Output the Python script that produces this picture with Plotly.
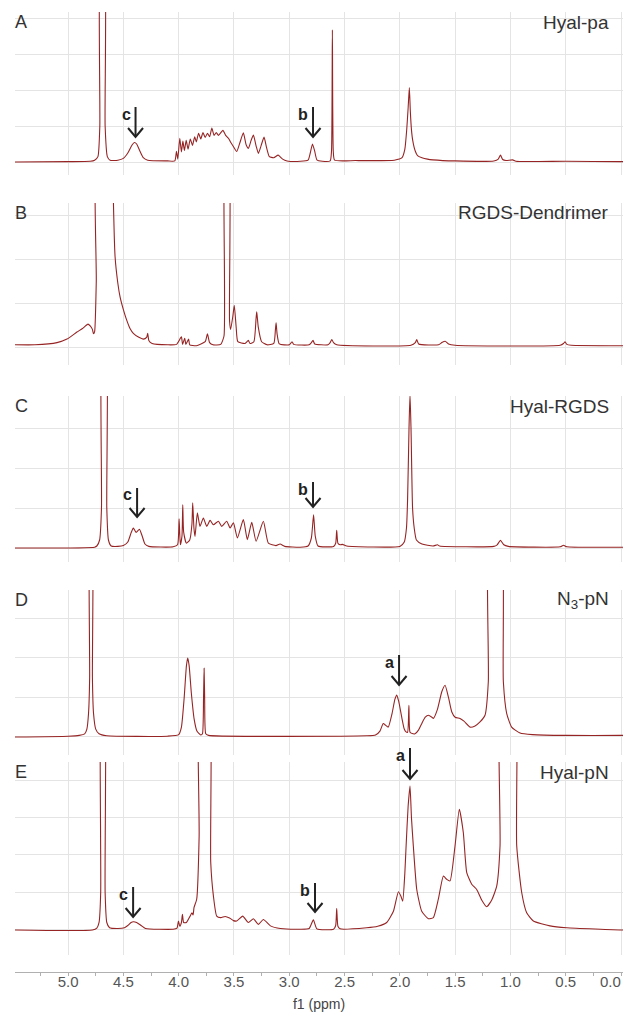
import plotly.graph_objects as go

# ---------------- data (ppm, relative intensity) ----------------
A_ppm = [5.48, 5.00, 4.80, 4.76, 4.73, 4.713, 4.703, 4.675, 4.665, 4.645, 4.62, 4.55, 4.50, 4.46, 4.42, 4.40, 4.38, 4.35, 4.32, 4.28, 4.10,
         4.035, 4.02, 4.008, 3.99, 3.975, 3.962, 3.948, 3.932, 3.915, 3.895, 3.875, 3.855, 3.84, 3.82, 3.80, 3.78, 3.76, 3.74, 3.72,
         3.70, 3.68, 3.66, 3.64, 3.60, 3.575, 3.55, 3.53, 3.505, 3.475, 3.445, 3.415, 3.39, 3.369, 3.345, 3.324, 3.30, 3.279, 3.255,
         3.228, 3.205, 3.18, 3.14, 3.10, 3.06, 3.02, 2.90, 2.83, 2.81, 2.79, 2.77, 2.75, 2.70, 2.63, 2.618, 2.61, 2.602, 2.59, 2.40,
         2.05, 1.98, 1.955, 1.938, 1.925, 1.914, 1.905, 1.895, 1.884, 1.86, 1.84, 1.80, 1.75, 1.70, 1.50, 1.15, 1.11, 1.09, 1.07,
         1.04, 0.98, 0.95, 0.50, 0.0, -0.02]
A_int = [0.0, 0.01, 0.02, 0.05, 0.15, 1.0, 6.0, 6.0, 1.0, 0.15, 0.05, 0.05, 0.10, 0.25, 0.48, 0.54, 0.50, 0.30, 0.12, 0.05, 0.03,
         0.03, 0.30, 0.08, 0.66, 0.28, 0.58, 0.32, 0.60, 0.36, 0.64, 0.46, 0.70, 0.56, 0.80, 0.64, 0.82, 0.68, 0.80, 0.70,
         0.94, 0.74, 0.82, 0.74, 0.88, 0.74, 0.66, 0.55, 0.43, 0.29, 0.55, 0.81, 0.48, 0.38, 0.60, 0.75, 0.45, 0.24, 0.45,
         0.69, 0.40, 0.15, 0.12, 0.19, 0.08, 0.03, 0.02, 0.05, 0.25, 0.50, 0.30, 0.06, 0.02, 0.03, 0.30, 3.67, 0.30, 0.05, 0.04,
         0.05, 0.12, 0.35, 0.89, 1.50, 2.07, 1.40, 0.90, 0.61, 0.30, 0.18, 0.12, 0.08, 0.06, 0.03, 0.03, 0.08, 0.19, 0.07,
         0.04, 0.06, 0.02, 0.02, 0.01, 0.01]

B_ppm = [5.48, 5.30, 5.10, 5.01, 4.92, 4.87, 4.82, 4.80, 4.78, 4.77, 4.76, 4.745, 4.73, 4.60, 4.59, 4.575, 4.55, 4.53, 4.50, 4.47,
         4.44, 4.41, 4.36, 4.32, 4.29, 4.28, 4.27, 4.24, 4.10, 4.02, 3.975, 3.965, 3.945, 3.935, 3.91, 3.90, 3.84, 3.76, 3.74,
         3.72, 3.69, 3.62, 3.59, 3.578, 3.55, 3.54, 3.53, 3.51, 3.497, 3.48, 3.465, 3.40, 3.37, 3.355, 3.32, 3.30, 3.294, 3.28,
         3.25, 3.20, 3.14, 3.125, 3.119, 3.11, 3.09, 3.00, 2.975, 2.96, 2.82, 2.80, 2.785, 2.77, 2.65, 2.63, 2.615, 2.60, 2.57,
         1.90, 1.86, 1.847, 1.83, 1.65, 1.62, 1.59, 1.56, 1.50, 0.55, 0.52, 0.506, 0.49, 0.45, 0.0, -0.02]
B_int = [0.05, 0.05, 0.10, 0.18, 0.34, 0.42, 0.52, 0.48, 0.40, 0.30, 0.35, 1.50, 5.0, 5.0, 3.30, 2.05, 1.45, 1.14, 0.85, 0.61,
         0.42, 0.31, 0.22, 0.18, 0.22, 0.31, 0.15, 0.08, 0.05, 0.06, 0.23, 0.06, 0.20, 0.06, 0.18, 0.05, 0.03, 0.12, 0.30,
         0.10, 0.05, 0.06, 0.25, 5.0, 5.0, 0.60, 0.40, 0.70, 0.95, 0.45, 0.12, 0.08, 0.15, 0.08, 0.12, 0.65, 0.80, 0.45,
         0.12, 0.05, 0.08, 0.40, 0.55, 0.30, 0.07, 0.05, 0.12, 0.06, 0.05, 0.10, 0.15, 0.07, 0.05, 0.10, 0.17, 0.10, 0.05,
         0.04, 0.10, 0.17, 0.07, 0.05, 0.10, 0.13, 0.07, 0.04, 0.04, 0.08, 0.12, 0.06, 0.04, 0.03, 0.03]

C_ppm = [5.48, 4.76, 4.74, 4.715, 4.698, 4.688, 4.66, 4.65, 4.635, 4.61, 4.55, 4.50, 4.46, 4.43, 4.41, 4.385, 4.355, 4.33, 4.305,
         4.27, 4.05, 4.01, 3.996, 3.985, 3.97, 3.963, 3.955, 3.93, 3.90, 3.88, 3.873, 3.862, 3.852, 3.831, 3.807, 3.777, 3.746,
         3.716, 3.686, 3.641, 3.611, 3.566, 3.535, 3.505, 3.469, 3.415, 3.379, 3.339, 3.300, 3.234, 3.189, 3.12, 3.083, 3.04,
         2.90, 2.83, 2.80, 2.78, 2.765, 2.74, 2.60, 2.58, 2.571, 2.56, 2.54, 2.52, 2.48, 2.00, 1.96, 1.94, 1.93, 1.917, 1.908,
         1.899, 1.885, 1.87, 1.85, 1.80, 1.70, 1.66, 1.64, 1.15, 1.12, 1.09, 1.06, 1.02, 0.55, 0.52, 0.49, 0.0, -0.02]
C_int = [0.0, 0.02, 0.05, 0.20, 1.0, 6.0, 6.0, 1.0, 0.20, 0.05, 0.04, 0.06, 0.15, 0.38, 0.50, 0.39, 0.47, 0.30, 0.10,
         0.04, 0.03, 0.08, 0.73, 0.08, 0.30, 1.08, 0.40, 0.12, 0.20, 0.60, 1.13, 0.50, 0.29, 0.88, 0.54, 0.75, 0.54,
         0.69, 0.58, 0.67, 0.54, 0.67, 0.50, 0.63, 0.25, 0.71, 0.21, 0.64, 0.17, 0.67, 0.12, 0.06, 0.10, 0.04,
         0.02, 0.05, 0.25, 0.83, 0.30, 0.05, 0.04, 0.12, 0.44, 0.12, 0.08, 0.09, 0.05, 0.04, 0.15, 0.50, 1.20, 3.00, 3.85,
         3.00, 1.00, 0.50, 0.20, 0.10, 0.05, 0.08, 0.05, 0.04, 0.08, 0.19, 0.08, 0.04, 0.03, 0.07, 0.03, 0.02, 0.02]

D_ppm = [5.48, 5.00, 4.90, 4.85, 4.83, 4.815, 4.805, 4.80, 4.785, 4.78, 4.77, 4.75, 4.72, 4.65, 4.10, 4.00, 3.975, 3.95, 3.93,
         3.918, 3.905, 3.885, 3.86, 3.835, 3.80, 3.785, 3.775, 3.770, 3.765, 3.755, 3.73, 2.30, 2.22, 2.18, 2.15, 2.13, 2.105,
         2.07, 2.045, 2.028, 2.01, 1.983, 1.96, 1.944, 1.93, 1.918, 1.908, 1.88, 1.863, 1.83, 1.80, 1.77, 1.742, 1.71, 1.697,
         1.66, 1.62, 1.591, 1.56, 1.531, 1.50, 1.456, 1.42, 1.365, 1.32, 1.275, 1.23, 1.20, 1.184, 1.094, 1.064, 1.034, 0.989,
         0.913, 0.80, 0.50, 0.0, -0.02]
D_int = [0.0, 0.02, 0.04, 0.08, 0.20, 0.60, 1.50, 6.0, 6.0, 1.50, 0.60, 0.20, 0.08, 0.03, 0.02, 0.06, 0.25, 1.00, 1.80,
         2.00, 1.80, 1.10, 0.45, 0.15, 0.05, 0.08, 1.00, 1.74, 1.00, 0.08, 0.04, 0.03, 0.05, 0.15, 0.34, 0.30, 0.25,
         0.60, 0.95, 1.06, 0.90, 0.50, 0.20, 0.13, 0.12, 0.80, 0.12, 0.08, 0.08, 0.18, 0.35, 0.50, 0.55, 0.50, 0.47,
         0.70, 1.15, 1.31, 1.00, 0.64, 0.50, 0.47, 0.40, 0.25, 0.28, 0.38, 0.55, 1.40, 6.0, 6.0, 1.40, 0.60, 0.25,
         0.10, 0.06, 0.04, 0.04, 0.04]

E_ppm = [5.48, 4.78, 4.74, 4.72, 4.705, 4.695, 4.675, 4.665, 4.65, 4.625, 4.55, 4.49, 4.46, 4.43, 4.41, 4.38, 4.34, 4.30, 4.05,
         4.015, 4.002, 3.99, 3.975, 3.966, 3.955, 3.93, 3.90, 3.88, 3.87, 3.861, 3.837, 3.815, 3.805, 3.735, 3.71, 3.686, 3.656,
         3.62, 3.58, 3.54, 3.505, 3.475, 3.421, 3.37, 3.324, 3.279, 3.234, 3.17, 3.08, 2.90, 2.82, 2.782, 2.75, 2.60, 2.58,
         2.571, 2.56, 2.54, 2.30, 2.20, 2.119, 2.058, 2.013, 1.99, 1.974, 1.955, 1.944, 1.925, 1.908, 1.895, 1.878, 1.847,
         1.802, 1.742, 1.697, 1.652, 1.606, 1.576, 1.546, 1.501, 1.462, 1.426, 1.395, 1.350, 1.305, 1.26, 1.215, 1.169,
         1.124, 1.094, 1.079, 0.973, 0.943, 0.898, 0.853, 0.793, 0.642, 0.491, 0.0, -0.02]
E_int = [0.0, 0.0, 0.05, 0.20, 1.0, 8.0, 8.0, 1.0, 0.20, 0.06, 0.04, 0.06, 0.12, 0.20, 0.22, 0.20, 0.12, 0.04, 0.02,
         0.05, 0.24, 0.10, 0.20, 0.42, 0.20, 0.20, 0.35, 0.46, 0.40, 0.60, 0.82, 2.50, 8.0, 8.0, 1.80, 0.91, 0.37,
         0.33, 0.36, 0.32, 0.25, 0.24, 0.37, 0.20, 0.30, 0.15, 0.28, 0.11, 0.04, 0.02, 0.04, 0.27, 0.03, 0.02, 0.12,
         0.57, 0.10, 0.03, 0.06, 0.10, 0.20, 0.50, 1.02, 0.90, 0.77, 1.50, 2.20, 3.30, 3.84, 3.00, 2.24, 1.08,
         0.50, 0.30, 0.33, 0.82, 1.44, 1.35, 1.31, 2.24, 3.22, 2.60, 1.53, 1.22, 1.08, 0.80, 0.62, 0.80,
         1.17, 2.24, 8.0, 8.0, 2.24, 1.00, 0.46, 0.24, 0.11, 0.06, 0.0, 0.0]

panel_letters = ["A", "B", "C", "D", "E"]
panel_names = ["Hyal-pa", "RGDS-Dendrimer", "Hyal-RGDS", "N<sub>3</sub>-pN", "Hyal-pN"]
spectra_ppm = [A_ppm, B_ppm, C_ppm, D_ppm, E_ppm]
spectra_int = [A_int, B_int, C_int, D_int, E_int]
x_ticks = [5.0, 4.5, 4.0, 3.5, 3.0, 2.5, 2.0, 1.5, 1.0, 0.5, 0.0]
x_tick_text = ["5.0", "4.5", "4.0", "3.5", "3.0", "2.5", "2.0", "1.5", "1.0", "0.5", ""]
edge_tick_text = "0.0"   # last label, drawn flush with the right edge

# arrow annotations: (panel letter, label, ppm)
arrow_marks = [("A", "c", 4.39), ("A", "b", 2.785), ("C", "c", 4.376), ("C", "b", 2.785),
               ("D", "a", 2.007), ("E", "a", 1.908), ("E", "c", 4.412), ("E", "b", 2.767)]

# ---------------- layout geometry (pixels) ----------------
W, H = 623, 1014
PX_PER_PPM = 110.6
def yp(p):
    return 1 - p / H

X_DOM = [15 / W, 1.0]
X_RANGE = [5.48, -0.018]
# (top px, bottom px, ymin, ymax)
geom = [(12, 175, -0.361, 4.167), (203, 365, -0.409, 3.273), (396, 562, -0.35, 3.8),
        (590, 755, -0.456, 3.72), (762, 955, -0.667, 4.48)]
# arrow geometry: shaft top px, tip px
arrow_geom = {("A", "c"): (107, 137), ("A", "b"): (107, 137), ("C", "c"): (488, 517), ("C", "b"): (482, 507),
              ("D", "a"): (655, 685), ("E", "a"): (748, 779), ("E", "c"): (887, 917), ("E", "b"): (883, 912)}

LINE = "#962424"
GRID = "#e4e4e4"
FONT = "Liberation Sans, Arial, sans-serif"

fig = go.Figure()
layout = dict(width=W, height=H, autosize=False,
              margin=dict(l=0, r=0, t=0, b=0, autoexpand=False), showlegend=False,
              paper_bgcolor="white", plot_bgcolor="white", font=dict(family=FONT))
annotations = []
shapes = []

for i in range(5):
    k = i + 1
    xs = "" if k == 1 else str(k)
    top, bot, y0, y1 = geom[i]
    fig.add_trace(go.Scatter(x=spectra_ppm[i], y=spectra_int[i], mode="lines",
                             line=dict(color=LINE, width=1.1, shape="spline", smoothing=0.5),
                             xaxis="x" + xs, yaxis="y" + xs, hoverinfo="skip"))
    layout["xaxis" + xs] = dict(domain=X_DOM, range=X_RANGE, anchor="y" + xs, showgrid=True, gridcolor=GRID,
                                gridwidth=1, tick0=0, dtick=0.5, showticklabels=False, zeroline=False,
                                showline=False, ticks="", automargin=False)
    layout["yaxis" + xs] = dict(domain=[yp(bot), yp(top)], range=[y0, y1], anchor="x" + xs, showgrid=True,
                                gridcolor=GRID, gridwidth=1, tick0=0, dtick=1, showticklabels=False,
                                zeroline=False, showline=False, ticks="", automargin=False)
    mid_label = top + 10
    annotations.append(dict(text=panel_letters[i], xref="paper", yref="paper", x=13 / W, y=yp(mid_label),
                            xanchor="left", yanchor="middle", showarrow=False,
                            font=dict(size=18, color="#333333", family=FONT)))
    annotations.append(dict(text=panel_names[i], xref="paper", yref="paper", x=611 / W, y=yp(mid_label),
                            xanchor="right", yanchor="middle", showarrow=False,
                            font=dict(size=19, color="#333333", family=FONT)))

# arrows with open heads (x axis is reversed: larger ppm is further left)
for (pl, lab, ppm) in arrow_marks:
    t, tip = arrow_geom[(pl, lab)]
    d = 7.5 / PX_PER_PPM
    h = 9
    shapes.append(dict(type="line", xref="x", yref="paper", x0=ppm, x1=ppm, y0=yp(t), y1=yp(tip),
                       line=dict(color="#222222", width=2)))
    shapes.append(dict(type="path", xref="x", yref="paper",
                       path=f"M {ppm + d},{yp(tip - h)} L {ppm},{yp(tip)} L {ppm - d},{yp(tip - h)}",
                       line=dict(color="#222222", width=2)))
    annotations.append(dict(text=f"<b>{lab}</b>", xref="x", yref="paper", x=ppm + 3 / PX_PER_PPM, y=yp(t + 7),
                            xanchor="right", yanchor="middle", showarrow=False,
                            font=dict(size=16, color="#222222", family=FONT)))

# bottom shared axis
fig.add_trace(go.Scatter(x=[], y=[], xaxis="x6", yaxis="y6", mode="lines", hoverinfo="skip"))
layout["xaxis6"] = dict(domain=X_DOM, range=X_RANGE, anchor="y6", showgrid=False, zeroline=False,
                        automargin=False,
                        showline=True, linecolor="#b0b0b0", linewidth=1, ticks="outside", ticklen=3,
                        tickcolor="#b0b0b0", tickvals=x_ticks, ticktext=x_tick_text,
                        ticklabeloverflow="allow", ticklabelstandoff=-7,
                        tickfont=dict(size=15, color="#555555", family=FONT),
                        minor=dict(dtick=0.25, tick0=0, ticks="outside", ticklen=3, tickcolor="#b0b0b0"),
                        title=dict(text="f1 (ppm)", font=dict(size=14, color="#444444", family=FONT), standoff=10))
layout["yaxis6"] = dict(domain=[yp(972), yp(970)], anchor="x6", visible=False, range=[0, 1], automargin=False)
annotations.append(dict(text=edge_tick_text, xref="paper", yref="paper", x=1.0, y=yp(981),
                        xanchor="right", yanchor="middle", showarrow=False,
                        font=dict(size=15, color="#555555", family=FONT)))

layout["annotations"] = annotations
layout["shapes"] = shapes
fig.update_layout(**layout)
fig.write_html("out.html")
